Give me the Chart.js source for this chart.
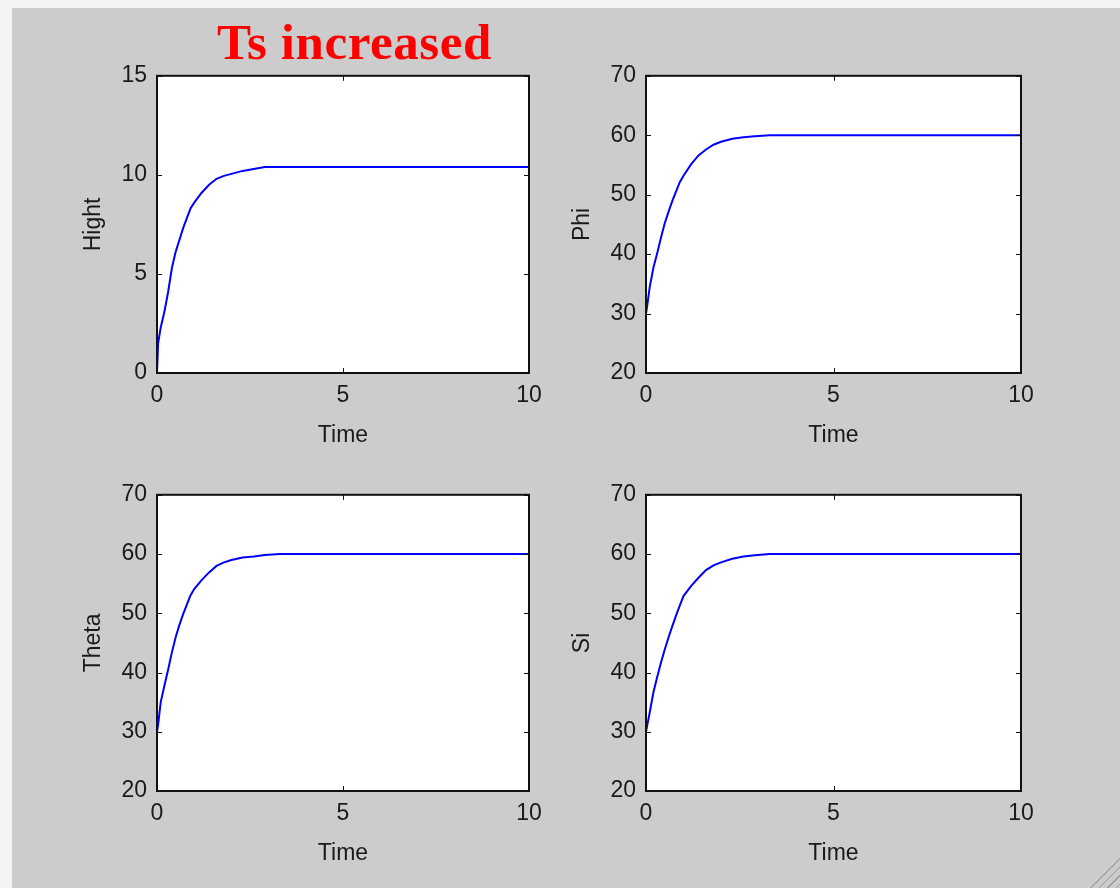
<!DOCTYPE html>
<html>
<head>
<meta charset="utf-8">
<script src="https://cdn.jsdelivr.net/npm/chart.js@4.4.1/dist/chart.umd.min.js"></script>
<style>
  html, body { margin: 0; padding: 0; }
  body {
    width: 1120px; height: 888px; overflow: hidden; position: relative;
    background: #f4f4f4;
  }
  #panel {
    position: absolute; left: 12px; top: 8px; right: 0; bottom: 0;
    background: #cccccc;
  }
  #curl {
    position: absolute; right: 0; bottom: 0; width: 30px; height: 30px;
    background: repeating-linear-gradient(135deg, transparent 0 3px, #9a9a9a 3px 4px, transparent 4px 6px);
    clip-path: polygon(100% 0, 100% 100%, 0 100%);
  }
  #heading {
    position: absolute; left: 217px; top: 13px;
    font: bold 51px "Liberation Serif", serif; color: #ff0000;
    letter-spacing: 0.6px; white-space: nowrap;
  }
  canvas { position: absolute; }
</style>
</head>
<body>
<div id="panel"></div>
<div id="curl"></div>
<div id="heading">Ts increased</div>
<canvas id="c1" width="500" height="418" style="left:60px;top:52px"></canvas>
<canvas id="c2" width="503" height="418" style="left:549px;top:52px"></canvas>
<canvas id="c3" width="500" height="417" style="left:60px;top:471px"></canvas>
<canvas id="c4" width="503" height="417" style="left:549px;top:471px"></canvas>
<script>
// sample times shared by all four responses
const times = [0, 0.03, 0.1, 0.2, 0.3, 0.4, 0.5, 0.6, 0.7, 0.8, 0.9, 1.0,
               1.2, 1.4, 1.6, 1.8, 2.0, 2.3, 2.6, 2.9, 3.3, 10];

const hight = [0, 1.5, 2.3, 3.1, 4.1, 5.3, 6.1, 6.7, 7.3, 7.8, 8.3, 8.6,
               9.1, 9.5, 9.8, 9.95, 10.05, 10.2, 10.3, 10.4, 10.4, 10.4];
const phi   = [30, 31.2, 34.5, 37.8, 40.2, 42.8, 45.2, 47.1, 48.9, 50.5, 52.1, 53.2,
               55.1, 56.6, 57.6, 58.4, 58.9, 59.4, 59.65, 59.85, 60, 60];
const theta = [30, 31.2, 35, 37.8, 40.5, 43.4, 45.9, 48.0, 49.8, 51.4, 53.0, 54.1,
               55.6, 56.9, 58.0, 58.6, 59.0, 59.4, 59.6, 59.85, 60, 60];
const si    = [30, 31.0, 33.3, 36.7, 39.3, 41.7, 43.9, 45.9, 47.8, 49.6, 51.3, 52.9,
               54.6, 56.0, 57.3, 58.1, 58.6, 59.2, 59.6, 59.8, 60, 60];

const xRange = [0, 10, 5];
const heightRange = [0, 15, 5];
const angleRange = [20, 70, 10];

const textFont = { family: "'Liberation Sans', Arial, sans-serif", size: 23, lineHeight: 1.2 };

// white axes box with a black frame and inward ticks on every side
const framePlugin = {
    id: 'frame',
    beforeDraw: function(chart) {
        var a = chart.chartArea, ctx = chart.ctx;
        ctx.save();
        ctx.fillStyle = '#ffffff';
        ctx.fillRect(a.left, a.top, a.right - a.left, a.bottom - a.top);
        ctx.restore();
    },
    afterDraw: function(chart) {
        var a = chart.chartArea, ctx = chart.ctx;
        var sx = chart.scales.x, sy = chart.scales.y;
        var len = 5;
        ctx.save();
        ctx.strokeStyle = '#111111';
        ctx.lineWidth = 1;
        ctx.beginPath();
        sx.ticks.forEach(function(t) {
            var px = Math.round(sx.getPixelForValue(t.value)) + 0.5;
            ctx.moveTo(px, a.bottom); ctx.lineTo(px, a.bottom - len);
            ctx.moveTo(px, a.top); ctx.lineTo(px, a.top + len);
        });
        sy.ticks.forEach(function(t) {
            var py = Math.round(sy.getPixelForValue(t.value)) + 0.5;
            ctx.moveTo(a.left, py); ctx.lineTo(a.left + len, py);
            ctx.moveTo(a.right, py); ctx.lineTo(a.right - len, py);
        });
        ctx.stroke();
        ctx.lineWidth = 2;
        ctx.strokeRect(a.left, a.top, a.right - a.left, a.bottom - a.top);
        ctx.restore();
    }
};

function makePlot(id, yLabel, values, range) {
    var points = times.map(function(t, i) { return { x: t, y: values[i] }; });
    return new Chart(document.getElementById(id), {
        type: 'line',
        data: {
            datasets: [{
                data: points,
                borderColor: '#0000ff',
                borderWidth: 2,
                pointRadius: 0,
                tension: 0,
                fill: false
            }]
        },
        options: {
            responsive: false,
            animation: false,
            layout: { padding: { top: 0, right: 31, left: 0, bottom: 0 } },
            plugins: { legend: { display: false }, tooltip: { enabled: false } },
            scales: {
                x: {
                    type: 'linear',
                    min: xRange[0], max: xRange[1],
                    grid: { display: false, drawTicks: false },
                    border: { display: false },
                    ticks: { stepSize: xRange[2], padding: 9, color: '#1a1a1a', font: textFont },
                    title: { display: true, text: 'Time', color: '#1a1a1a', font: textFont, padding: { top: 0, bottom: 21 } },
                    afterFit: function(scale) { scale.height = 97; }
                },
                y: {
                    min: range[0], max: range[1],
                    grid: { display: false, drawTicks: false },
                    border: { display: false },
                    ticks: { stepSize: range[2], padding: 10, color: '#1a1a1a', font: textFont },
                    title: { display: true, text: yLabel, color: '#1a1a1a', font: textFont, padding: { top: 20, bottom: 0 } },
                    afterFit: function(scale) { scale.width = 97; }
                }
            }
        },
        plugins: [framePlugin]
    });
}

makePlot('c1', 'Hight', hight, heightRange);
makePlot('c2', 'Phi', phi, angleRange);
makePlot('c3', 'Theta', theta, angleRange);
makePlot('c4', 'Si', si, angleRange);
</script>
</body>
</html>
